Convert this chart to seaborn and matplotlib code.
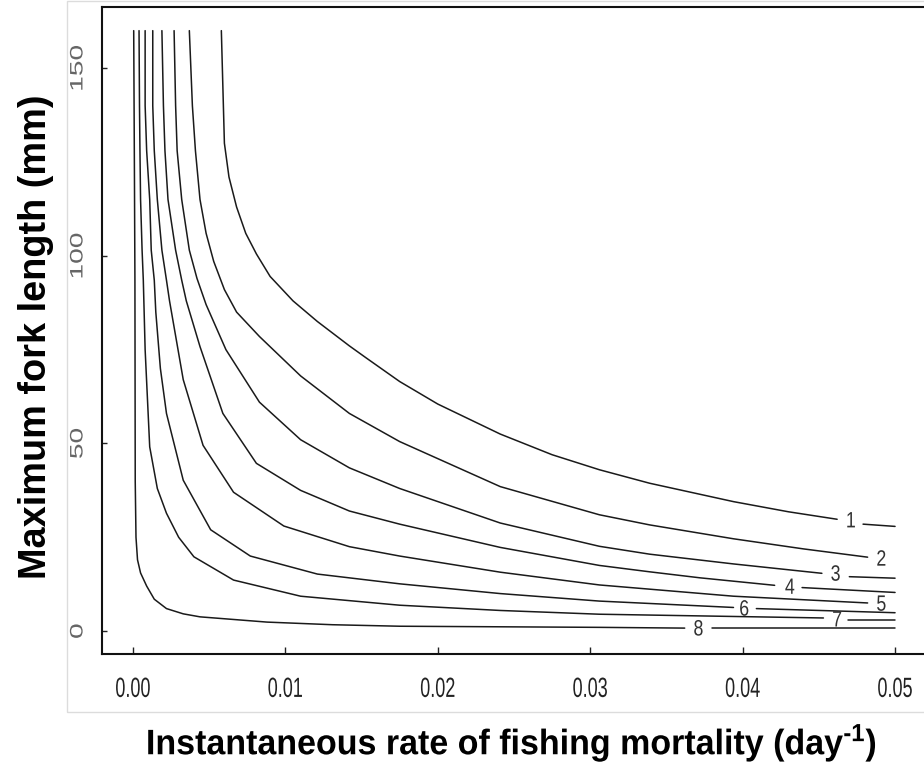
import numpy as np
import pandas as pd
import matplotlib
matplotlib.use("Agg")
import matplotlib.pyplot as plt
import seaborn as sns
from matplotlib.patheffects import AbstractPathEffect
from matplotlib.transforms import Affine2D
from matplotlib.patches import Rectangle

# ---------------- data ----------------
# F = instantaneous fishing mortality (day^-1), L = maximum fork length (mm)
levels = [1, 2, 3, 4, 5, 6, 7, 8]

c1_F = [0.0058, 0.0059, 0.0060, 0.0063, 0.0068, 0.0074, 0.0081, 0.0090, 0.0105, 0.0121, 0.0142, 0.0153, 0.0175, 0.0200, 0.0241, 0.0275, 0.0306, 0.0339, 0.0394, 0.0430, 0.0462]
c1_L = [160, 145, 130, 121, 113, 106, 100.5, 94.5, 88, 82.5, 76, 72.8, 66.5, 60.5, 52.5, 47, 43, 39.4, 34.5, 31.8, 29.8]
c1_tail_F = [0.0479, 0.0500]
c1_tail_L = [28.5, 27.9]

c2_F = [0.0037, 0.0039, 0.0041, 0.0044, 0.0048, 0.0053, 0.0060, 0.0068, 0.0083, 0.0110, 0.0142, 0.0175, 0.0241, 0.0306, 0.0339, 0.0394, 0.0440, 0.0482]
c2_L = [160, 140, 128, 115, 106, 98.5, 91, 85, 78.5, 68, 58, 50.5, 38.5, 31, 28.3, 24.6, 21.9, 19.7]
c2_tail_F = []
c2_tail_L = []

c3_F = [0.0027, 0.0028, 0.0029, 0.0032, 0.0037, 0.0042, 0.0048, 0.0061, 0.0083, 0.0110, 0.0142, 0.0175, 0.0241, 0.0306, 0.0339, 0.0394, 0.0452]
c3_L = [160, 140, 128, 115, 101.5, 94, 87, 75, 61, 51, 43.5, 38, 28.8, 22.6, 20.5, 17.9, 15.4]
c3_tail_F = [0.0470, 0.0500]
c3_tail_L = [14.5, 14.1]

c4_F = [0.0019, 0.0020, 0.0021, 0.0023, 0.0028, 0.0032, 0.0035, 0.0044, 0.0059, 0.0081, 0.0110, 0.0142, 0.0175, 0.0241, 0.0306, 0.0339, 0.0372, 0.0421]
c4_L = [160, 140, 128, 115, 101.5, 93.5, 88, 75.8, 58, 44.7, 37.5, 32, 28.5, 22.3, 17.5, 15.8, 14.2, 12.2]
c4_tail_F = [0.0439, 0.0500]
c4_tail_L = [11.6, 10.3]

c5_F = [0.0013, 0.0013, 0.0014, 0.0016, 0.0019, 0.0022, 0.0024, 0.0033, 0.0046, 0.0066, 0.0099, 0.0142, 0.0175, 0.0241, 0.0306, 0.0394, 0.0482]
c5_L = [160, 140, 128, 115, 101.5, 93.5, 88, 67, 49.5, 37, 28, 22.5, 20, 15.7, 12.3, 9.3, 7.5]
c5_tail_F = []
c5_tail_L = []

c6_F = [0.0008, 0.0008, 0.0009, 0.0011, 0.0012, 0.0014, 0.0015, 0.0018, 0.0022, 0.0033, 0.0051, 0.0077, 0.0121, 0.0175, 0.0241, 0.0306, 0.0394]
c6_L = [160, 140, 128, 115, 101.5, 93.5, 85, 70, 58, 40.2, 27, 20, 15.2, 12.6, 10, 8, 6.3]
c6_tail_F = [0.0409, 0.0500]
c6_tail_L = [6.0, 4.9]

c7_F = [0.0004, 0.00043, 0.00046, 0.0005, 0.0006, 0.00068, 0.0008, 0.0011, 0.0016, 0.0022, 0.0030, 0.0040, 0.0066, 0.0110, 0.0175, 0.0241, 0.0306, 0.0453]
c7_L = [160, 140, 128, 115, 101.5, 93.5, 75, 49.1, 38, 31.4, 25, 19.8, 13.6, 9.3, 6.9, 5.5, 4.5, 3.5]
c7_tail_F = [0.0469, 0.0500]
c7_tail_L = [2.9, 2.9]

c8_F = [0.00005, 0.0001, 0.00013, 0.00015, 0.0002, 0.0003, 0.0005, 0.0009, 0.0014, 0.0022, 0.0033, 0.0044, 0.0088, 0.0131, 0.0175, 0.0306, 0.0362]
c8_L = [160, 120, 93.5, 40, 25, 19, 15.5, 12, 8.5, 6.0, 4.6, 3.8, 2.4, 1.7, 1.3, 1.0, 0.8]
c8_tail_F = [0.0380, 0.0500]
c8_tail_L = [0.8, 0.8]

label_F = [0.0471, 0.0491, 0.0461, 0.0431, 0.0491, 0.0401, 0.0462, 0.0371]
label_L = [29.1, 18.9, 14.9, 11.4, 6.9, 5.6, 2.7, 0.3]

x_ticks = [0.00, 0.01, 0.02, 0.03, 0.04, 0.05]
x_ticklabels = ["0.00", "0.01", "0.02", "0.03", "0.04", "0.05"]
y_ticks = [0, 50, 100, 150]
y_ticklabels = ["0", "50", "100", "150"]

x_title = r"Instantaneous rate of fishing mortality (day$^{\text{-1}}$)"
y_title = "Maximum fork length (mm)"

# ---------------- helpers ----------------
class Stretch(AbstractPathEffect):
    """Scale the glyph outlines about their own centre (text stays a Text artist)."""
    def __init__(self, sx=1.0, sy=1.0):
        super().__init__()
        self.sx, self.sy = sx, sy

    def draw_path(self, renderer, gc, tpath, affine, rgbFace=None):
        ext = tpath.get_extents()
        cx = 0.5 * (ext.x0 + ext.x1)
        cy = 0.5 * (ext.y0 + ext.y1)
        t = Affine2D().translate(-cx, -cy).scale(self.sx, self.sy).translate(cx, cy) + affine
        renderer.draw_path(gc, tpath, t, rgbFace)

# ---------------- build long table ----------------
curves = {
    1: [(c1_F, c1_L), (c1_tail_F, c1_tail_L)],
    2: [(c2_F, c2_L), (c2_tail_F, c2_tail_L)],
    3: [(c3_F, c3_L), (c3_tail_F, c3_tail_L)],
    4: [(c4_F, c4_L), (c4_tail_F, c4_tail_L)],
    5: [(c5_F, c5_L), (c5_tail_F, c5_tail_L)],
    6: [(c6_F, c6_L), (c6_tail_F, c6_tail_L)],
    7: [(c7_F, c7_L), (c7_tail_F, c7_tail_L)],
    8: [(c8_F, c8_L), (c8_tail_F, c8_tail_L)],
}
rows = []
for lev in levels:
    for k, (fs, ls) in enumerate(curves[lev]):
        for f, l in zip(fs, ls):
            rows.append((f, l, lev, f"{lev}-{k}"))
df = pd.DataFrame(rows, columns=["F", "L", "level", "part"])

# ---------------- plot ----------------
sns.set_theme(style="white")
plt.rcParams["font.family"] = ["Liberation Sans", "DejaVu Sans"]
plt.rcParams["mathtext.fontset"] = "custom"
plt.rcParams["mathtext.rm"] = "Liberation Sans:bold"
plt.rcParams["mathtext.default"] = "rm"

W, H = 924, 769
fig = plt.figure(figsize=(W / 100, H / 100), dpi=100)
fig.patch.set_facecolor("white")

# light grey frame of the embedded plot image
fig.add_artist(Rectangle((67 / W, 1 - 712 / H), 1.0, 711 / H, transform=fig.transFigure,
                         fill=False, edgecolor="#dcdcdc", lw=1.0))

ax = fig.add_axes([102 / W, (H - 654) / H, 824 / W, 647 / H])
sns.lineplot(data=df, x="F", y="L", units="part", estimator=None, sort=False,
             color="#1a1a1a", lw=1.1, ax=ax, legend=False)

ax.set_xlim(-0.00203, 0.05203)
ax.set_ylim(-6.1, 166.3)

for s in ax.spines.values():
    s.set_color("#111111")
    s.set_linewidth(1.5)
ax.set_facecolor("white")

ax.set_xticks(x_ticks)
ax.set_xticklabels(x_ticklabels)
ax.set_yticks(y_ticks)
ax.set_yticklabels(y_ticklabels, rotation=90, va="center", ha="center")
ax.tick_params(axis="x", direction="in", length=5, width=1, color="#222222",
               bottom=True, pad=16.5, labelsize=20, labelcolor="#222222")
ax.tick_params(axis="y", direction="in", length=3.3, width=1, color="#222222",
               left=True, pad=17.3, labelsize=13, labelcolor="#666666")
for t in ax.get_xticklabels():
    t.set_path_effects([Stretch(0.65, 1.0)])
for t in ax.get_yticklabels():
    t.set_path_effects([Stretch(1.56, 1.0)])

ax.set_xlabel("")
ax.set_ylabel("")

# contour labels
for lev, f, l in zip(levels, label_F, label_L):
    ax.text(f, l, str(lev), ha="center", va="center", fontsize=16, color="#333333",
            path_effects=[Stretch(0.8, 1.0)])

# axis titles
fig.text(511 / W, 1 - 743 / H, x_title, ha="center", va="center", fontsize=25.5,
         fontweight="bold", color="black", path_effects=[Stretch(0.96, 1.0)])
fig.text(36 / W, 1 - 337 / H, y_title, ha="center", va="center", rotation=90,
         fontsize=27.3, fontweight="bold", color="black")

fig.savefig("out.png", dpi=100, facecolor="white")
